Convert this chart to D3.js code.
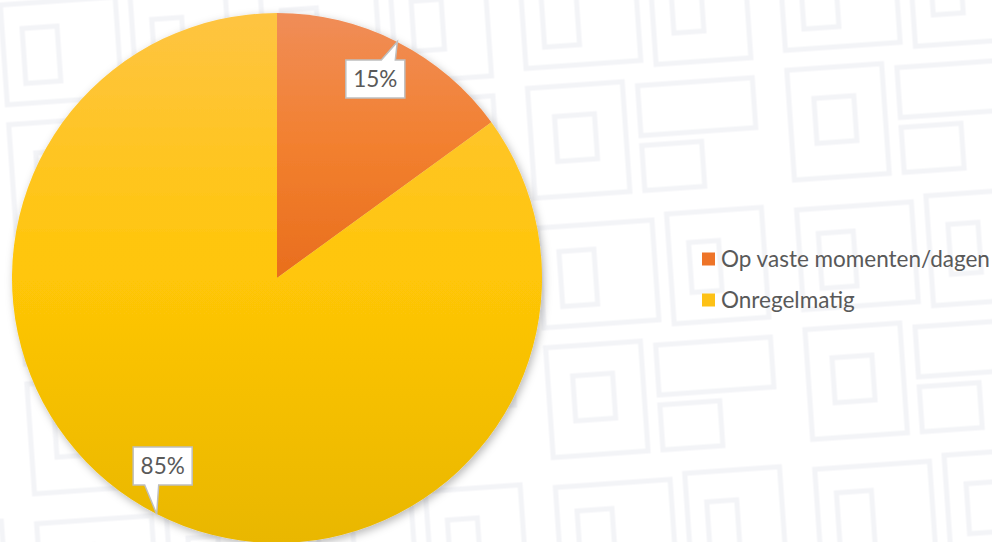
<!DOCTYPE html>
<html>
<head>
<meta charset="utf-8">
<script src="https://cdn.jsdelivr.net/npm/d3@7"></script>
<style>
  html, body { margin: 0; padding: 0; background: #ffffff; }
  svg { display: block; }
</style>
</head>
<body>
<svg id="chart" width="992" height="542"></svg>
<script>
// ---- data ----
const categories = ["Op vaste momenten/dagen", "Onregelmatig"];
const values = [15, 85];
const valueLabels = ["15%", "85%"];

// ---- layout / style (not data) ----
const W = 992, H = 542;
const cx = 277, cy = 278, R = 265;
const fontFamily = "Lato, 'Open Sans', 'Liberation Sans', sans-serif";
const textColor = "#595959";
const gradStops = [
  [["0", "#F08D58"], ["0.25", "#F2802F"], ["0.5", "#E96E1D"], ["1", "#D9620F"]],
  [["0", "#FEC442"], ["0.5", "#FFC607"], ["1", "#E9B700"]]
];
const swatchColors = ["#EE7428", "#FDC116"];

const svg = d3.select("#chart");
const defs = svg.append("defs");

// faint maze-like watermark pattern
const pat = defs.append("pattern").attr("id", "maze").attr("patternUnits", "userSpaceOnUse")
  .attr("width", 260).attr("height", 260).attr("patternTransform", "rotate(-4) translate(-20,-10)");
const mazeRects = [
  [20, 15, 115, 100], [40, 40, 35, 55], [150, 10, 95, 110], [170, 40, 30, 50],
  [20, 135, 95, 110], [45, 165, 40, 45], [130, 140, 115, 50], [130, 200, 60, 45]
];
pat.selectAll("rect").data(mazeRects).join("rect")
  .attr("x", d => d[0]).attr("y", d => d[1]).attr("width", d => d[2]).attr("height", d => d[3])
  .attr("fill", "none").attr("stroke", "#F3F4F7").attr("stroke-width", 5);
svg.append("rect").attr("width", W).attr("height", H).attr("fill", "url(#maze)");

// gradients (in the pie group's coordinate space)
gradStops.forEach((stops, i) => {
  const gr = defs.append("linearGradient").attr("id", "grad" + i)
    .attr("gradientUnits", "userSpaceOnUse")
    .attr("x1", 0).attr("x2", 0).attr("y1", -R).attr("y2", R);
  stops.forEach(s => gr.append("stop").attr("offset", s[0]).attr("stop-color", s[1]));
});

// drop shadow
const f = defs.append("filter").attr("id", "shadow").attr("x", "-10%").attr("y", "-10%")
  .attr("width", "120%").attr("height", "120%");
f.append("feDropShadow").attr("dx", 2).attr("dy", 3).attr("stdDeviation", 4)
  .attr("flood-color", "#000").attr("flood-opacity", 0.28);

const pie = d3.pie().sort(null).value(d => d)(values);
const arc = d3.arc().innerRadius(0).outerRadius(R);

const g = svg.append("g").attr("transform", `translate(${cx},${cy})`);
g.append("g").attr("filter", "url(#shadow)")
  .selectAll("path").data(pie).join("path")
  .attr("d", arc)
  .attr("fill", (d, i) => `url(#grad${i})`);

// callout labels
const labelArc = d3.arc().innerRadius(221).outerRadius(221);
const tipArc = d3.arc().innerRadius(R).outerRadius(R);
const labelNudge = [[-2, -2], [-14, -9]];
const boxW = 59, boxH = 38;
pie.forEach((d, i) => {
  const c = labelArc.centroid(d);
  const bx = c[0] + labelNudge[i][0], by = c[1] + labelNudge[i][1];
  const t = tipArc.centroid(d);
  const x0 = bx - boxW / 2, x1 = bx + boxW / 2, y0 = by - boxH / 2, y1 = by + boxH / 2;
  let pts;
  if (t[1] < y0) {
    const a = Math.max(x0 + 6, Math.min(x1 - 16, t[0] - 16)), b = a + 14;
    pts = [[x0, y0], [a, y0], [t[0], t[1]], [b, y0], [x1, y0], [x1, y1], [x0, y1]];
  } else {
    const a = Math.max(x0 + 6, Math.min(x1 - 16, t[0] - 12)), b = a + 14;
    pts = [[x0, y0], [x1, y0], [x1, y1], [b, y1], [t[0], t[1]], [a, y1], [x0, y1]];
  }
  g.append("path")
    .attr("d", "M" + pts.map(p => p.join(",")).join("L") + "Z")
    .attr("fill", "#ffffff").attr("stroke", "#BFBFBF").attr("stroke-width", 1.5)
    .attr("stroke-linejoin", "miter");
  g.append("text")
    .attr("x", bx).attr("y", by).attr("dy", "0.36em")
    .attr("text-anchor", "middle")
    .attr("font-family", fontFamily).attr("font-size", 22.5)
    .attr("fill", textColor)
    .text(valueLabels[i]);
});

// legend
const legend = svg.append("g").attr("transform", "translate(702,0)");
const legY = d3.scalePoint().domain(categories).range([259, 300]);
const items = legend.selectAll("g").data(categories).join("g")
  .attr("transform", d => `translate(0,${legY(d)})`);
items.append("rect").attr("x", 0).attr("y", -6.5).attr("width", 13).attr("height", 13)
  .attr("fill", (d, i) => swatchColors[i]);
items.append("text").attr("x", 19).attr("y", 0).attr("dy", "0.36em")
  .attr("font-family", fontFamily).attr("font-size", 22.5).attr("fill", textColor)
  .text(d => d);
</script>
</body>
</html>
